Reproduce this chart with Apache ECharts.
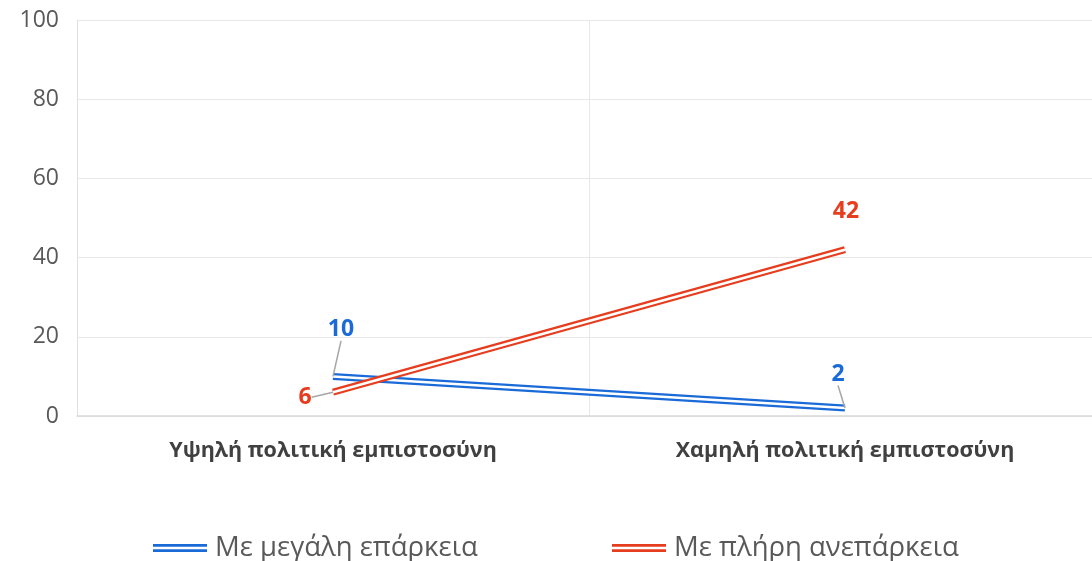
<!DOCTYPE html>
<html>
<head>
<meta charset="utf-8">
<script src="https://cdn.jsdelivr.net/npm/echarts@6/dist/echarts.min.js"></script>
<style>
    html, body { margin: 0; padding: 0; background: #fff; }
    #chart { width: 1092px; height: 561px; }
</style>
</head>
<body>
<div id="chart"></div>
<script>
    var categories = ['Υψηλή πολιτική εμπιστοσύνη', 'Χαμηλή πολιτική εμπιστοσύνη'];
    var seriesNames = ['Με μεγάλη επάρκεια', 'Με πλήρη ανεπάρκεια'];
    var highSufficiency = [10, 2];
    var noSufficiency = [6, 42];
    var yTicks = [0, 20, 40, 60, 80, 100];

    var BLUE = '#1a6ad8';
    var RED = '#e63d1e';
    var FONT = '"Open Sans", "Noto Sans", sans-serif';

    // label offsets per point (dx, dy) relative to the point, and whether a leader line is drawn
    var blueOffsets = [[8, -47], [-7, -34]];
    var redOffsets = [[-28, 5], [1, -38]];
    var blueLeader = [true, true];
    var redLeader = [true, false];

    var chart = echarts.init(document.getElementById('chart'));

    function mainSeries(name, data, color, offsets, leaders) {
        return {
            name: name,
            type: 'line',
            data: data.map(function (v, i) {
                return { value: v, labelLine: { show: leaders[i] } };
            }),
            symbol: 'circle',
            symbolSize: 0.01,
            showSymbol: true,
            lineStyle: { color: color, width: 7 },
            itemStyle: { color: color },
            label: {
                show: true,
                position: 'inside',
                color: color,
                fontFamily: FONT,
                fontWeight: 'bold',
                fontSize: 23
            },
            labelLine: {
                show: true,
                lineStyle: { color: '#a6a6a6', width: 1.5 }
            },
            labelLayout: function (params) {
                var o = offsets[params.dataIndex];
                return { dx: o[0], dy: o[1] };
            },
            emphasis: { disabled: true }
        };
    }

    function innerSeries(data) {
        return {
            type: 'line',
            data: data,
            symbol: 'none',
            silent: true,
            lineStyle: { color: '#ffffff', width: 2.5 },
            emphasis: { disabled: true }
        };
    }

    function legendAt(name, left) {
        return {
            data: [name],
            top: 534,
            left: left,
            padding: 0,
            itemWidth: 54,
            itemHeight: 9,
            itemGap: 0,
            icon: 'path://M0,0H60V3H0Z M0,6H60V9H0Z',
            textStyle: { fontFamily: FONT, fontSize: 27.5, color: '#595959', padding: [0, 0, 0, 3] }
        };
    }

    chart.setOption({
        animation: false,
        grid: { left: 77, width: 1024, top: 20, height: 396, outerBoundsMode: 'none' },
        legend: [legendAt(seriesNames[0], 153), legendAt(seriesNames[1], 612)],
        xAxis: {
            type: 'category',
            data: categories,
            boundaryGap: true,
            axisLine: { show: true, lineStyle: { color: '#d9d9d9', width: 1.5 } },
            axisTick: { show: false },
            splitLine: { show: true, lineStyle: { color: '#e8e8e8' } },
            axisLabel: {
                margin: 24,
                color: '#404040',
                fontFamily: FONT,
                fontWeight: 'bold',
                fontSize: 21.5
            }
        },
        yAxis: {
            type: 'value',
            min: yTicks[0],
            max: yTicks[yTicks.length - 1],
            interval: 20,
            axisLine: { show: true, lineStyle: { color: '#e0e0e0' } },
            axisTick: { show: false },
            splitLine: { lineStyle: { color: '#e8e8e8' } },
            axisLabel: {
                margin: 18,
                color: '#595959',
                fontFamily: FONT,
                fontSize: 23
            }
        },
        series: [
            mainSeries(seriesNames[0], highSufficiency, BLUE, blueOffsets, blueLeader),
            innerSeries(highSufficiency),
            mainSeries(seriesNames[1], noSufficiency, RED, redOffsets, redLeader),
            innerSeries(noSufficiency)
        ]
    });
</script>
</body>
</html>
